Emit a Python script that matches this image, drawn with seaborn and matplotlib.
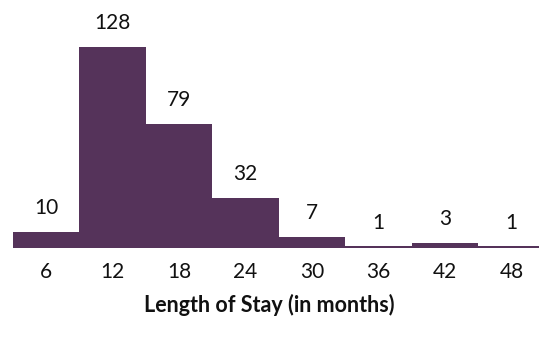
import matplotlib
matplotlib.use("Agg")
import matplotlib.pyplot as plt
import seaborn as sns
import pandas as pd

# data
months = ["6", "12", "18", "24", "30", "36", "42", "48"]
counts = [10, 128, 79, 32, 7, 1, 3, 1]
bar_color = "#55335a"

df = pd.DataFrame({"month": months, "count": counts})

sns.set_style("white")
plt.rcParams['font.family'] = ['Lato', 'DejaVu Sans']

fig = plt.figure(figsize=(5.39, 3.41), dpi=100)
ax = fig.add_axes([0, 93 / 341, 1, 201 / 341])

sns.barplot(data=df, x="month", y="count", color=bar_color, width=1.0,
            saturation=1, edgecolor="none", ax=ax)

# value labels above bars
for i, v in enumerate(counts):
    ax.annotate(str(v), (i, v), xytext=(0, 10), textcoords="offset points",
                ha="center", va="bottom", fontsize=15, color="#111111",
                annotation_clip=False)

ax.set_xlim(-0.692, 7.414)
ax.set_ylim(0, 128)
ax.set_yticks([])
ax.set_ylabel("")
ax.set_xlabel("Length of Stay (in months)", fontsize=15.5, fontweight="bold",
              labelpad=9, color="#111111")
ax.tick_params(axis="x", length=0, labelsize=15, pad=10, colors="#111111")
sns.despine(ax=ax, left=True, bottom=True, top=True, right=True)

fig.savefig("out.png", dpi=100)
